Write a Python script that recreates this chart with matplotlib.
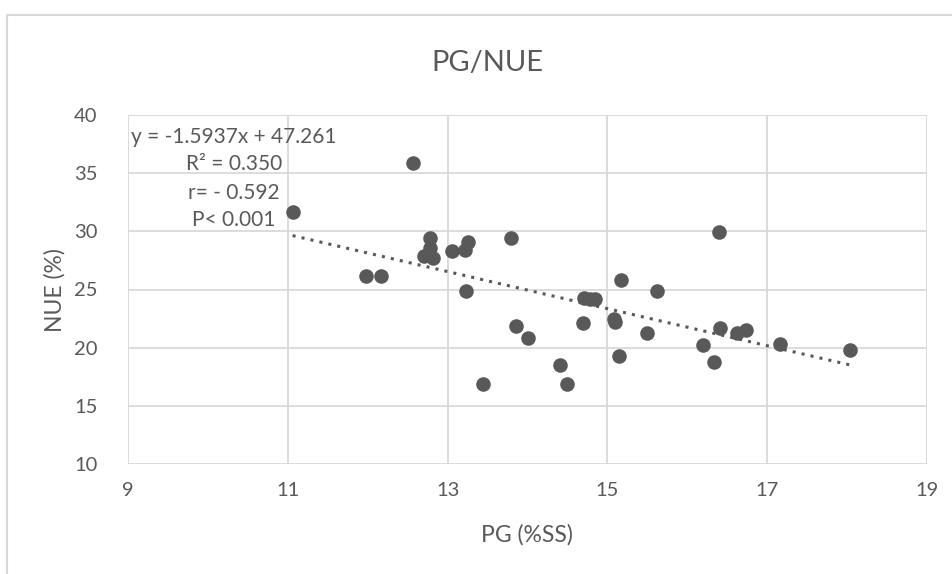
import matplotlib
matplotlib.use("Agg")
import matplotlib.pyplot as plt
import numpy as np
from matplotlib.patches import Rectangle

pg = [11.06, 11.98, 12.17, 12.57, 12.78, 12.78, 12.70, 12.82, 13.05, 13.22, 13.26,
      13.23, 13.44, 13.79, 13.86, 14.01, 14.41, 14.49, 14.71, 14.78, 14.85, 14.70,
      15.08, 15.10, 15.14, 15.17, 15.50, 15.62, 16.20, 16.33, 16.40, 16.41, 16.62,
      16.73, 17.16, 18.04]
nue = [31.65, 26.2, 26.2, 35.9, 29.45, 28.6, 27.9, 27.7, 28.3, 28.4, 29.05,
       24.9, 16.85, 29.4, 21.9, 20.8, 18.55, 16.9, 24.3, 24.2, 24.2, 22.1,
       22.45, 22.2, 19.3, 25.8, 21.3, 24.9, 20.2, 18.8, 29.97, 21.7, 21.25,
       21.55, 20.3, 19.8]
slope, intercept = -1.5937, 47.261
xticks = [9, 11, 13, 15, 17, 19]
yticks = [10, 15, 20, 25, 30, 35, 40]
annot = ["y = -1.5937x + 47.261", "R² = 0.350", "r= - 0.592", "P< 0.001"]

plt.rcParams['font.family'] = ['Lato', 'DejaVu Sans']
grey = '#595959'
fig = plt.figure(figsize=(9.53, 5.74), dpi=100)
fig.patches.append(Rectangle((6.5/953, -0.1), 1.0, (574-15)/574 + 0.1, transform=fig.transFigure,
                             fill=False, edgecolor='#d9d9d9', linewidth=1.5))
ax = fig.add_axes([128/953, 1-464/574, 799/953, 349/574])
ax.set_xlim(9, 19)
ax.set_ylim(10, 40)
ax.set_xticks(xticks)
ax.set_yticks(yticks)
ax.grid(True, color='#d9d9d9', linewidth=1.3)
ax.set_axisbelow(True)
for s in ax.spines.values():
    s.set_visible(False)
ax.tick_params(length=0, labelsize=14.5, labelcolor=grey, pad=9)
ax.tick_params(axis='x', pad=13)
ax.tick_params(axis='y', pad=22)

ax.scatter(pg, nue, s=110, color=grey, zorder=3, linewidths=0)
xl = np.array([min(pg), max(pg)])
ax.plot(xl, slope*xl + intercept, linestyle=(0, (1, 2)), color=grey, linewidth=2.2, zorder=2)

fig.text(527/953, 1-535/574, "PG (%SS)", fontsize=16.5, color=grey, ha='center', va='center')
fig.text(55/953, 1-290/574, "NUE (%)", fontsize=16.5, color=grey, ha='center', va='center',
         rotation=90)
fig.text(487/953, 1-63/574, "PG/NUE", fontsize=21, color=grey, ha='center', va='center')

ys = [137, 164, 193, 220]
for t, yy in zip(annot, ys):
    fig.text(234/953, 1-yy/574, t, fontsize=15, color=grey, ha='center', va='center')

fig.savefig("out.png", dpi=100)
